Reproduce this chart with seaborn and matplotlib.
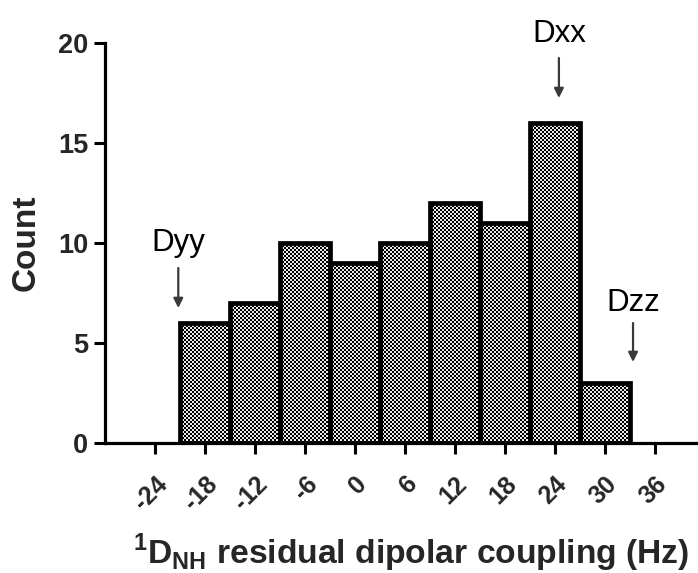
import numpy as np
import matplotlib
matplotlib.use("Agg")
import matplotlib.pyplot as plt
import seaborn as sns

# Histogram of 1D_NH residual dipolar couplings (bin centres in Hz, counts)
bin_centers = [-18, -12, -6, 0, 6, 12, 18, 24, 30]
counts = [6, 7, 10, 9, 10, 12, 11, 16, 3]
bin_width = 6

x_ticks = [-24, -18, -12, -6, 0, 6, 12, 18, 24, 30, 36]
y_ticks = [0, 5, 10, 15, 20]

# Principal tensor components: label, position (Hz), arrow tip, arrow tail, label baseline (count units)
tensor_labels = ["Dyy", "Dxx", "Dzz"]
tensor_x = [-21.2, 24.5, 33.4]
arrow_tip = [6.75, 17.25, 4.05]
arrow_tail = [8.75, 19.25, 6.0]
label_y = [9.6, 20.05, 6.6]

sns.set_theme(style="ticks")
plt.rcParams["font.family"] = ["Liberation Sans", "DejaVu Sans"]
plt.rcParams["mathtext.fontset"] = "custom"
plt.rcParams["mathtext.rm"] = "Liberation Sans:bold"
plt.rcParams["mathtext.bf"] = "Liberation Sans:bold"

fig = plt.figure(figsize=(6.98, 5.73), dpi=100)
ax = fig.add_axes([0.1504, 0.2269, 0.8496, 0.698])

x_min, x_max = -30, 41.2
y_min, y_max = 0, 20

sns.histplot(x=bin_centers, weights=counts, binwidth=bin_width,
             binrange=(min(bin_centers) - bin_width / 2, max(bin_centers) + bin_width / 2),
             ax=ax, color="white", edgecolor="black", linewidth=3.4, alpha=1)

ax.set_xlim(x_min, x_max)
ax.set_ylim(y_min, y_max)

# Checkerboard fill clipped to each bar
ax_w_px = 0.8496 * 698
ax_h_px = 0.698 * 573
cell_px = 2.0
for p in list(ax.patches):
    x0, w, h = p.get_x(), p.get_width(), p.get_height()
    ncols = max(1, int(round(w / (x_max - x_min) * ax_w_px / cell_px)))
    nrows = max(1, int(round(h / (y_max - y_min) * ax_h_px / cell_px)))
    ii, jj = np.indices((nrows, ncols))
    checker = ((ii + jj) % 2) * 0.92
    im = ax.imshow(checker, extent=(x0, x0 + w, 0, h), cmap="gray", vmin=0, vmax=1,
                   interpolation="nearest", aspect="auto", zorder=1)
    im.set_clip_path(p)
    p.set_facecolor("none")
    p.set_zorder(2)

ax.set_xlim(x_min, x_max)
ax.set_ylim(y_min, y_max)

# Tensor component markers
for lab, xv, tip, tail, ly in zip(tensor_labels, tensor_x, arrow_tip, arrow_tail, label_y):
    ax.annotate("", xy=(xv, tip), xytext=(xv, tail),
                arrowprops=dict(arrowstyle="-|>", color="#3a3a3a", lw=1.6,
                                mutation_scale=14, shrinkA=0, shrinkB=0),
                annotation_clip=False)
    ax.text(xv, ly, lab, ha="center", va="baseline", fontsize=22.5, color="black",
            clip_on=False)

# Axes styling
sns.despine(ax=ax)
for side in ("left", "bottom"):
    ax.spines[side].set_linewidth(2.3)
    ax.spines[side].set_color("black")

ax.set_xticks(x_ticks)
ax.set_xticklabels([str(v) for v in x_ticks], rotation=45, ha="right",
                   rotation_mode="anchor", fontsize=18, fontweight="bold")
ax.set_yticks(y_ticks)
ax.set_yticklabels([str(v) for v in y_ticks], fontsize=19.5, fontweight="bold")
ax.tick_params(axis="both", direction="out", length=8, width=2.2, color="black")
ax.tick_params(axis="x", pad=13)
ax.tick_params(axis="y", pad=4)

ax.set_ylabel("Count", fontsize=24, fontweight="bold", labelpad=12)
ax.set_xlabel(r"$^{1}$D$_{\mathrm{NH}}$ residual dipolar coupling (Hz)",
              fontsize=24.2, fontweight="bold", labelpad=12)
ax.xaxis.label.set_x(0.517)

fig.savefig("out.png", dpi=100)
